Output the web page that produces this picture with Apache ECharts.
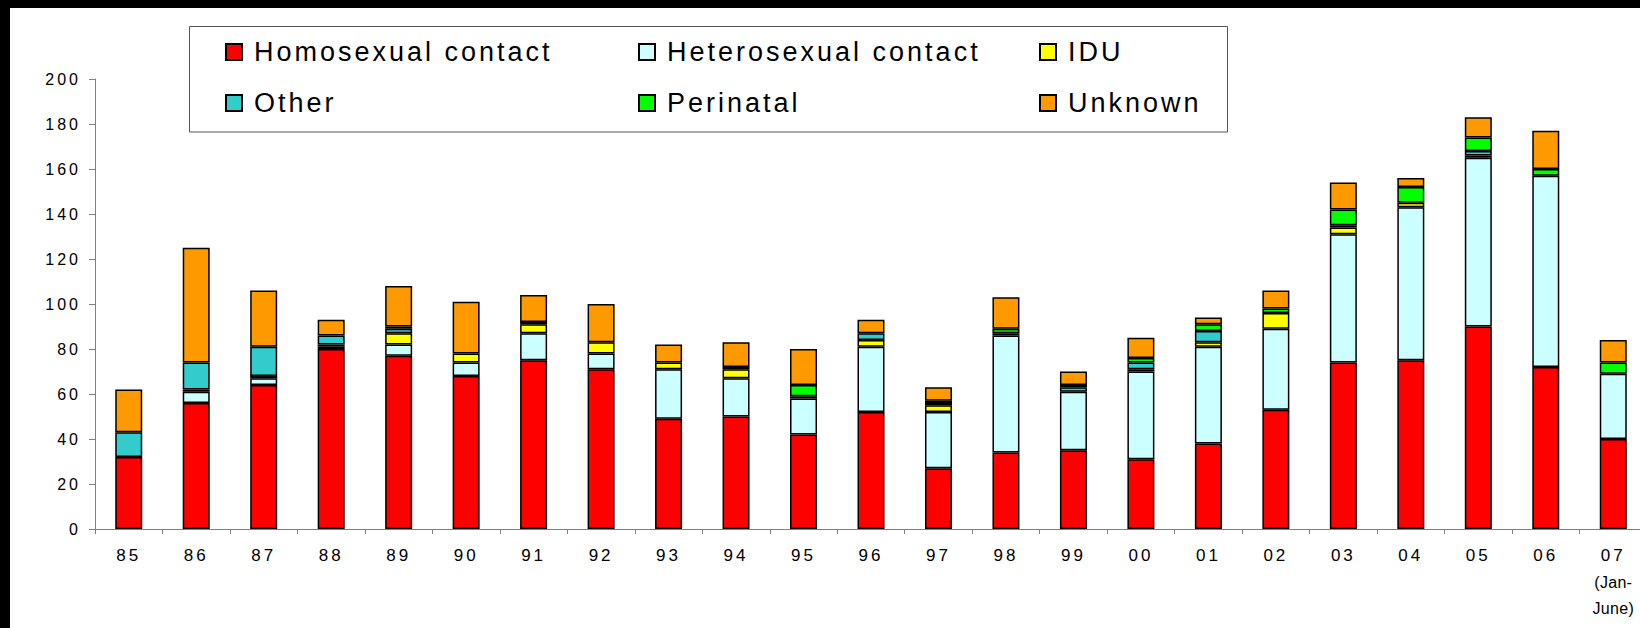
<!DOCTYPE html>
<html><head><meta charset="utf-8">
<script src="https://cdn.jsdelivr.net/npm/echarts@6/dist/echarts.min.js"></script>
<style>
html,body{margin:0;padding:0;background:#fff;}
#chart{width:1640px;height:628px;}
#chart text{letter-spacing:3px;}
</style></head><body><div id="chart"></div>
<script>
const categories = ['85','86','87','88','89','90','91','92','93','94','95','96','97','98','99','00','01','02','03','04','05','06','07'];
const homosexual = [32,56,64,80,77,68,75,71,49,50,42,52,27,34,35,31,38,53,74,75,90,72,40];
const heterosexual = [0,5,3,1,5,6,12,7,22,17,16,29,25,52,26,39,43,36,57,68,75,85,29];
const idu = [0,1,1,1,5,4,4,5,3,4,1,3,3,0,0,1,2,7,3,2,1,0,0];
const other = [11,12,13,4,2,0,0,0,0,1,0,3,1,1,2,3,5,0,1,0,2,0,0];
const perinatal = [0,0,0,0,1,0,1,0,0,0,5,0,1,2,1,2,3,2,7,7,6,3,5];
const unknown = [19,51,25,7,18,23,12,17,8,11,16,6,6,14,6,9,3,8,12,4,9,17,10];
const yTicks = [0,20,40,60,80,100,120,140,160,180,200];

const seriesDefs = [
  {name:'Homosexual contact', data:homosexual, color:'#FF0000'},
  {name:'Heterosexual contact', data:heterosexual, color:'#CCFFFF'},
  {name:'IDU', data:idu, color:'#FFFF00'},
  {name:'Other', data:other, color:'#33CCCC'},
  {name:'Perinatal', data:perinatal, color:'#00FF00'},
  {name:'Unknown', data:unknown, color:'#FF9900'}
];
const FONT = '"Liberation Sans", Arial, sans-serif';

const legendPos = [[225,37],[638,37],[1039,37],[225,88],[638,88],[1039,88]];
const legends = seriesDefs.map((s,i)=>({
  data:[s.name], left:legendPos[i][0], top:legendPos[i][1], padding:0,
  orient:'horizontal', icon:'rect', itemWidth:16, itemHeight:16, selectedMode:false,
  textStyle:{fontFamily:FONT, fontSize:27, color:'#000', lineHeight:30, padding:[0,0,0,7]}
}));

const chart = echarts.init(document.getElementById('chart'), null, {renderer:'svg'});
chart.setOption({
  animation:false,
  backgroundColor:'#fff',
  legend: legends,
  grid:{left:95, right:-7, top:79, bottom:99, containLabel:false, outerBoundsMode:'none'},
  graphic:[
    {type:'rect', shape:{x:189.5,y:26.5,width:1038,height:105.5}, style:{fill:'none', stroke:'#555', lineWidth:1}, z:-1},
    {type:'rect', shape:{x:0,y:0,width:1640,height:8}, style:{fill:'#000'}, z:100},
    {type:'rect', shape:{x:0,y:0,width:10,height:628}, style:{fill:'#000'}, z:100}
  ],
  xAxis:{
    type:'category', data:categories,
    axisLine:{lineStyle:{color:'#808080', width:1}},
    axisTick:{show:true, length:5, lineStyle:{color:'#808080'}},
    axisLabel:{
      interval:0, margin:13, color:'#000', fontFamily:FONT, fontSize:17, lineHeight:27,
      formatter:(v)=> v==='07' ? '{a|07}\n{b|(Jan-}\n{b|June)}' : v,
      rich:{
        a:{fontFamily:FONT, fontSize:17, lineHeight:27, color:'#000'},
        b:{fontFamily:FONT, fontSize:16, lineHeight:26, color:'#000'}
      }
    }
  },
  yAxis:{
    type:'value', min:yTicks[0], max:yTicks[yTicks.length-1], interval:yTicks[1]-yTicks[0],
    axisLine:{show:true, lineStyle:{color:'#808080', width:1}},
    axisTick:{show:true, length:6, lineStyle:{color:'#808080'}},
    splitLine:{show:false},
    axisLabel:{margin:14, color:'#000', fontFamily:FONT, fontSize:16}
  },
  series: seriesDefs.map(s=>({
    name:s.name, type:'bar', stack:'total', barWidth:27,
    data:s.data.map(v=> v===0 ? '-' : v),
    itemStyle:{color:s.color, borderColor:'#000', borderWidth:1.5}
  }))
});
function tightenNotes(){
  document.querySelectorAll('#chart text').forEach(t=>{
    const s = t.textContent.trim();
    if (s==='(Jan-' || s==='June)') t.style.letterSpacing='0.3px';
  });
}
tightenNotes();
chart.on('finished', tightenNotes);
</script></body></html>
